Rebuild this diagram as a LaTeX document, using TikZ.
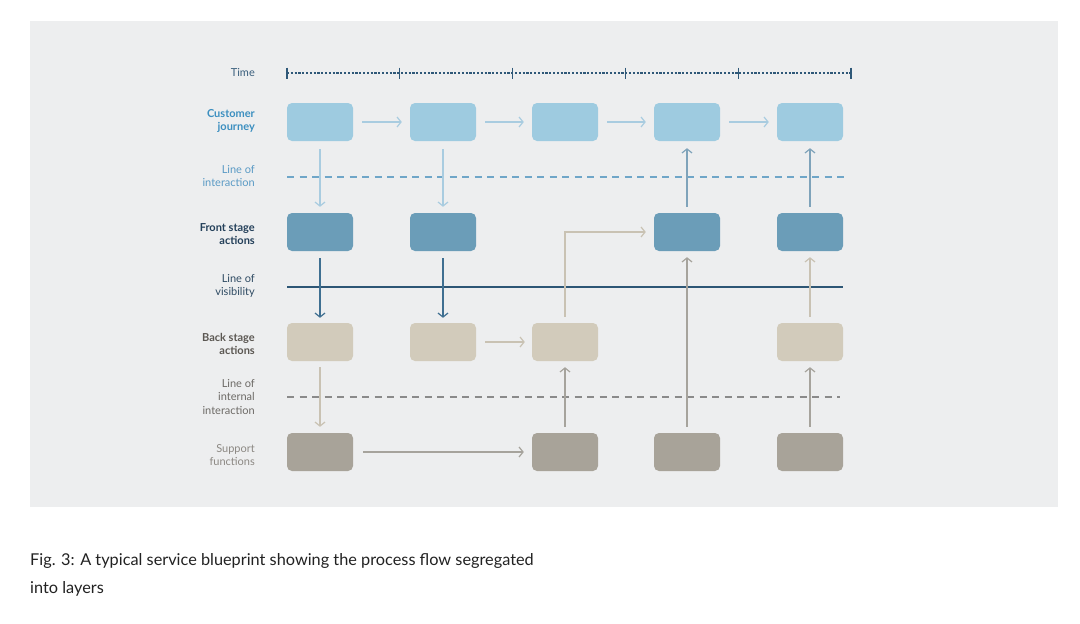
\documentclass[tikz,border=0pt]{standalone}
\usepackage{fontspec}
\setmainfont{Lato}
\usetikzlibrary{arrows.meta}
\definecolor{panel}{HTML}{EDEEEF}
\definecolor{cjfill}{HTML}{9ECBE0}
\definecolor{fsfill}{HTML}{6B9DB8}
\definecolor{bsfill}{HTML}{D2CBBB}
\definecolor{sffill}{HTML}{A8A399}
\definecolor{cjarr}{HTML}{A9CCE0}
\definecolor{fsarr}{HTML}{3F6F91}
\definecolor{uparr}{HTML}{7FA3BA}
\definecolor{bsarr}{HTML}{C9C2B3}
\definecolor{sfarr}{HTML}{A6A39C}
\definecolor{intline}{HTML}{8A8A8A}
\definecolor{iaLine}{HTML}{6FA6C8}
\definecolor{visline}{HTML}{2D5675}
\definecolor{timecol}{HTML}{2F5878}
\definecolor{ltime}{HTML}{3A5F7D}
\definecolor{lcj}{HTML}{3C8FC0}
\definecolor{lia}{HTML}{5A9AC5}
\definecolor{lfs}{HTML}{24405A}
\definecolor{lvis}{HTML}{2F4B63}
\definecolor{lbs}{HTML}{5B5752}
\definecolor{lint}{HTML}{6D6A66}
\definecolor{lsf}{HTML}{8C8883}
\definecolor{captioncol}{HTML}{222222}
\begin{document}
\begin{tikzpicture}[x=1pt,y=-1pt,
  box/.style={rounded corners=5pt,minimum width=66pt,minimum height=38pt,inner sep=0pt,draw=none},
  cjbox/.style={box,fill=cjfill},
  fsbox/.style={box,fill=fsfill},
  bsbox/.style={box,fill=bsfill},
  sfbox/.style={box,fill=sffill},
  arr/.style={line width=1.3pt,-{Straight Barb[length=4pt,width=10pt,line width=1.2pt]}},
  lab/.style={align=right,anchor=east,font=\fontsize{11}{13.7}\selectfont,inner sep=0pt},
  labb/.style={lab,font=\fontsize{11}{13.7}\selectfont\bfseries},
  captext/.style={anchor=base west,inner sep=0pt,text=captioncol,font=\fontsize{16.3}{20}\selectfont},
]
\useasboundingbox (0,0) rectangle (1080,624);
\fill[white] (0,0) rectangle (1080,624);
\fill[panel] (30,21) rectangle (1058,507);

% labels
\node[lab,text=ltime] (lTime) at (255,73) {Time};
\node[labb,text=lcj] (lCJ) at (255,121) {Customer\\journey};
\node[lab,text=lia] (lIA) at (255,176) {Line of\\interaction};
\node[labb,text=lfs] (lFS) at (255,234) {Front stage\\actions};
\node[lab,text=lvis] (lVis) at (255,286) {Line of\\visibility};
\node[labb,text=lbs] (lBS) at (255,344) {Back stage\\actions};
\node[lab,text=lint] (lInt) at (255,397) {Line of\\internal\\interaction};
\node[lab,text=lsf] (lSF) at (255,455) {Support\\functions};

% time line
\coordinate (t0) at (287,73);
\coordinate (t1) at (399.8,73);
\coordinate (t2) at (512.6,73);
\coordinate (t3) at (625.4,73);
\coordinate (t4) at (738.2,73);
\coordinate (t5) at (851,73);
\draw[timecol,line width=1.3pt,dash pattern=on 2.2pt off 1.6pt] (t0) -- (t5);
\foreach \t in {t0,t1,t2,t3,t4,t5}
  \draw[timecol,line width=1.3pt] ([yshift=5.5pt]\t) -- ([yshift=-5.5pt]\t);

% boxes
\foreach \i/\x in {1/320,2/443,3/565,4/687,5/810}
  \node[cjbox] (cj\i) at (\x,122) {};
\node[fsbox] (fs1) at (320,232) {};
\node[fsbox] (fs2) at (443,232) {};
\node[fsbox] (fs4) at (687,232) {};
\node[fsbox] (fs5) at (810,232) {};
\node[bsbox] (bs1) at (320,342) {};
\node[bsbox] (bs2) at (443,342) {};
\node[bsbox] (bs3) at (565,342) {};
\node[bsbox] (bs5) at (810,342) {};
\node[sfbox] (sf1) at (320,452) {};
\node[sfbox] (sf3) at (565,452) {};
\node[sfbox] (sf4) at (687,452) {};
\node[sfbox] (sf5) at (810,452) {};

% horizontal lines
\coordinate (iaA) at (287,177);
\coordinate (iaB) at (845,177);
\coordinate (visA) at (287,287);
\coordinate (visB) at (843,287);
\coordinate (intA) at (287,397);
\coordinate (intB) at (840,397);
\draw[iaLine,line width=1.3pt,dash pattern=on 7pt off 5.5pt] (iaA) -- (iaB);
\draw[visline,line width=1.4pt] (visA) -- (visB);
\draw[intline,line width=1.3pt,dash pattern=on 7pt off 5.5pt] (intA) -- (intB);

% customer journey arrows
\foreach \a/\b in {1/2,2/3,3/4,4/5}
  \draw[arr,cjarr] ([xshift=9pt]cj\a.east) -- ([xshift=-8pt]cj\b.west);
\draw[arr,cjarr] ([yshift=-8pt]cj1.south) -- ([yshift=6pt]fs1.north);
\draw[arr,cjarr] ([yshift=-8pt]cj2.south) -- ([yshift=6pt]fs2.north);

% front stage down
\draw[arr,fsarr] ([yshift=-7pt]fs1.south) -- ([yshift=5pt]bs1.north);
\draw[arr,fsarr] ([yshift=-7pt]fs2.south) -- ([yshift=5pt]bs2.north);

% front stage up to customer
\draw[arr,uparr] ([yshift=6pt]fs4.north) -- ([yshift=-7pt]cj4.south);
\draw[arr,uparr] ([yshift=6pt]fs5.north) -- ([yshift=-7pt]cj5.south);

% back stage
\draw[arr,bsarr] ([yshift=-6pt]bs1.south) -- ([yshift=6pt]sf1.north);
\draw[arr,bsarr] ([xshift=9pt]bs2.east) -- ([xshift=-7pt]bs3.west);
\draw[arr,bsarr] ([yshift=6pt]bs3.north) |- ([xshift=-8pt]fs4.west);
\draw[arr,bsarr] ([yshift=6pt]bs5.north) -- ([yshift=-6pt]fs5.south);

% support
\draw[arr,sfarr] ([xshift=10pt]sf1.east) -- ([xshift=-8pt]sf3.west);
\draw[arr,sfarr] ([yshift=6pt]sf3.north) -- ([yshift=-6pt]bs3.south);
\draw[arr,sfarr] ([yshift=6pt]sf4.north) -- ([yshift=-6pt]fs4.south);
\draw[arr,sfarr] ([yshift=6pt]sf5.north) -- ([yshift=-6pt]bs5.south);

% caption
\node[captext] (cap1) at (30,565) {Fig. 3: A typical service blueprint showing the process flow segregated};
\node[captext] (cap2) at (30,593) {into layers};
\end{tikzpicture}
\end{document}
